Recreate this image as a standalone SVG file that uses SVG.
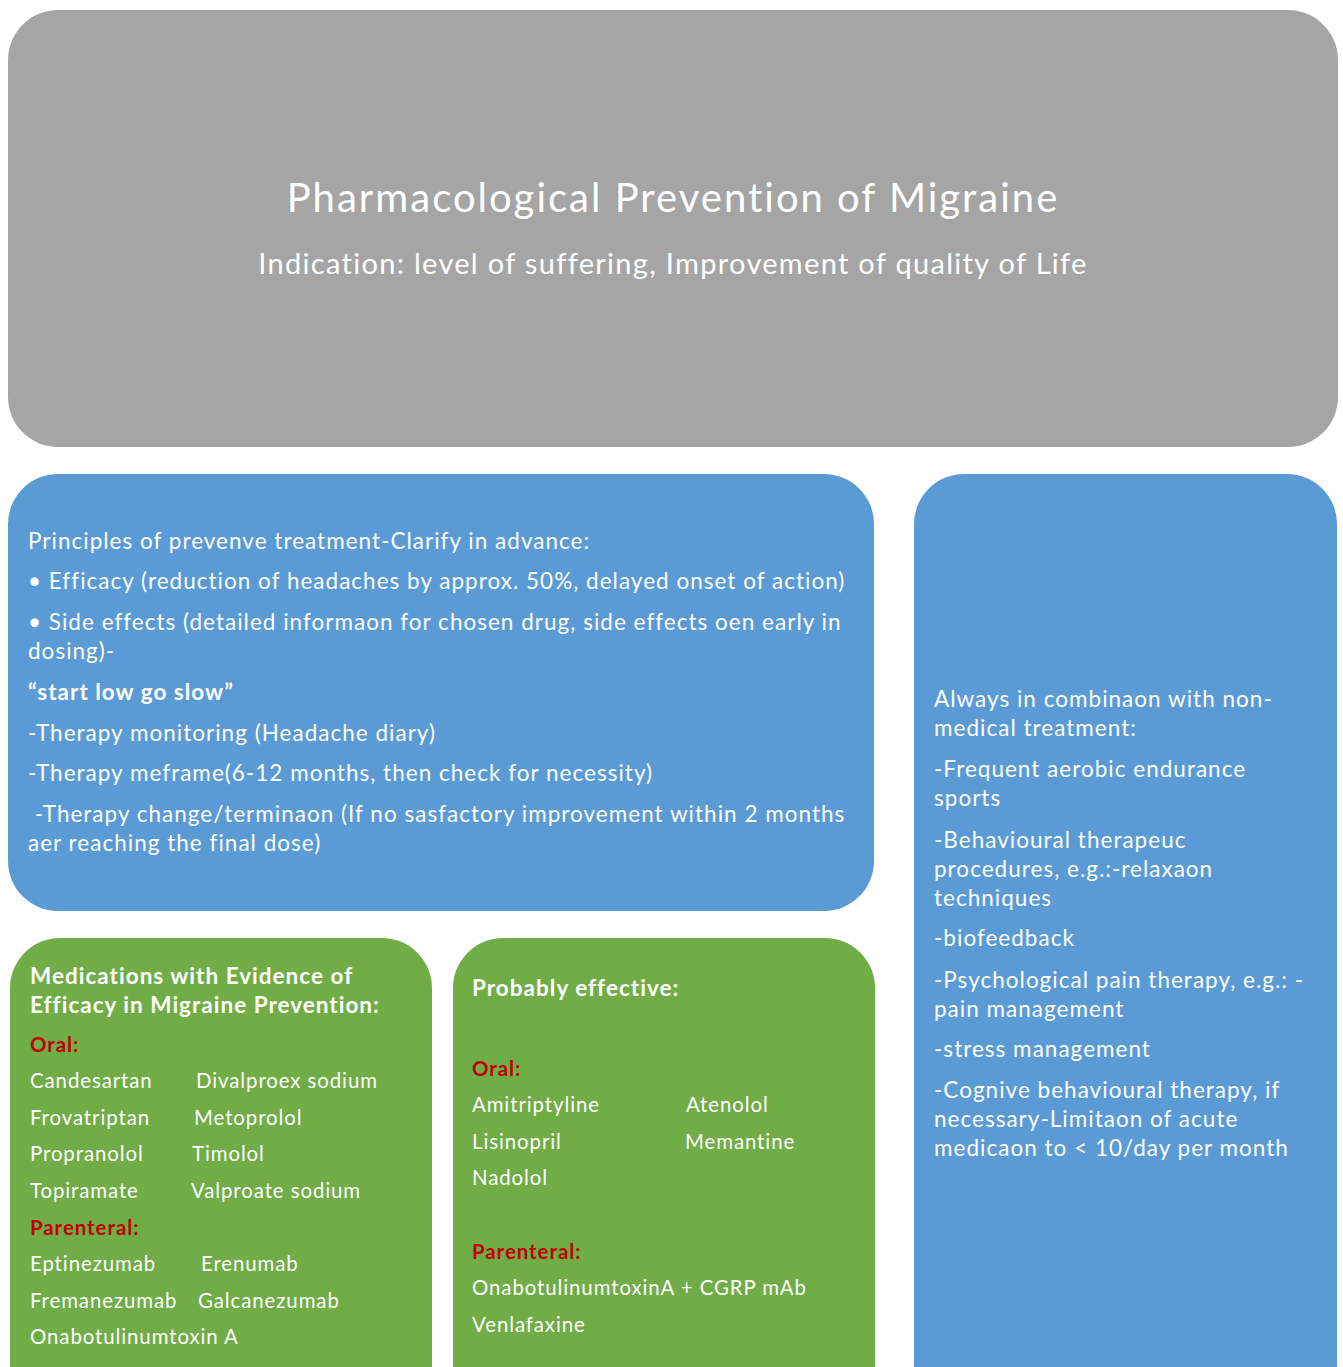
<svg xmlns="http://www.w3.org/2000/svg" width="1343" height="1367" viewBox="0 0 1343 1367">
<style>
.t{font-family:Lato,"Open Sans","Liberation Sans",sans-serif;fill:#ffffff;font-size:22.5px;letter-spacing:0.045em}
.s{font-size:20.4px}
.b{font-weight:bold}
.r{fill:#c00000;font-weight:bold;font-size:20.5px}
.gray{fill:#a5a5a5}
.blue{fill:#5b9bd5}
.green{fill:#70ad47}
</style>
<rect width="1343" height="1367" fill="#ffffff"/>
<g id="title">
<rect class="gray" x="8" y="10" width="1330" height="437" rx="50"/>
<text class="t" x="673" y="212" text-anchor="middle" style="font-size:40px;letter-spacing:0.05em">Pharmacological Prevention of Migraine</text>
<text class="t" x="673" y="274" text-anchor="middle" style="font-size:29px">Indication: level of suffering, Improvement of quality of Life</text>
</g>
<g id="principles">
<rect class="blue" x="8" y="474" width="866" height="437" rx="50"/>
<text class="t" x="28" y="549">Principles of prevenve treatment-Clarify in advance:</text>
<text class="t" x="28" y="589">• Efficacy (reduction of headaches by approx. 50%, delayed onset of action)</text>
<text class="t" x="28" y="630">• Side effects (detailed informaon for chosen drug, side effects oen early in</text>
<text class="t" x="28" y="659">dosing)-</text>
<text class="t b" x="28" y="700">“start low go slow”</text>
<text class="t" x="28" y="741">-Therapy monitoring (Headache diary)</text>
<text class="t" x="28" y="781">-Therapy meframe(6-12 months, then check for necessity)</text>
<text class="t" x="28" y="822" xml:space="preserve"> -Therapy change/terminaon (If no sasfactory improvement within 2 months</text>
<text class="t" x="28" y="851">aer reaching the final dose)</text>
</g>
<g id="nonmedical">
<rect class="blue" x="914" y="474" width="423" height="940" rx="50"/>
<text class="t" x="934" y="707">Always in combinaon with non-</text>
<text class="t" x="934" y="736">medical treatment:</text>
<text class="t" x="934" y="777">-Frequent aerobic endurance</text>
<text class="t" x="934" y="806">sports</text>
<text class="t" x="934" y="848">-Behavioural therapeuc</text>
<text class="t" x="934" y="877">procedures, e.g.:-relaxaon</text>
<text class="t" x="934" y="906">techniques</text>
<text class="t" x="934" y="946">-biofeedback</text>
<text class="t" x="934" y="988">-Psychological pain therapy, e.g.: -</text>
<text class="t" x="934" y="1017">pain management</text>
<text class="t" x="934" y="1057">-stress management</text>
<text class="t" x="934" y="1098">-Cognive behavioural therapy, if</text>
<text class="t" x="934" y="1127">necessary-Limitaon of acute</text>
<text class="t" x="934" y="1156">medicaon to &lt; 10/day per month</text>
</g>
<g id="evidence">
<rect class="green" x="10" y="938" width="422" height="480" rx="50"/>
<text class="t b" x="30" y="984">Medications with Evidence of</text>
<text class="t b" x="30" y="1013">Efficacy in Migraine Prevention:</text>
<text class="t r" x="30" y="1052">Oral:</text>
<text class="t s" x="30" y="1088">Candesartan</text><text class="t s" x="196" y="1088">Divalproex sodium</text>
<text class="t s" x="30" y="1125">Frovatriptan</text><text class="t s" x="194" y="1125">Metoprolol</text>
<text class="t s" x="30" y="1161">Propranolol</text><text class="t s" x="192" y="1161">Timolol</text>
<text class="t s" x="30" y="1198">Topiramate</text><text class="t s" x="191" y="1198">Valproate sodium</text>
<text class="t r" x="30" y="1235">Parenteral:</text>
<text class="t s" x="30" y="1271">Eptinezumab</text><text class="t s" x="201" y="1271">Erenumab</text>
<text class="t s" x="30" y="1308">Fremanezumab</text><text class="t s" x="198" y="1308">Galcanezumab</text>
<text class="t s" x="30" y="1344">Onabotulinumtoxin A</text>
</g>
<g id="probable">
<rect class="green" x="453" y="938" width="422" height="480" rx="50"/>
<text class="t b" x="472" y="996">Probably effective:</text>
<text class="t r" x="472" y="1076">Oral:</text>
<text class="t s" x="472" y="1112">Amitriptyline</text><text class="t s" x="686" y="1112">Atenolol</text>
<text class="t s" x="472" y="1149">Lisinopril</text><text class="t s" x="685" y="1149">Memantine</text>
<text class="t s" x="472" y="1185">Nadolol</text>
<text class="t r" x="472" y="1259">Parenteral:</text>
<text class="t s" x="472" y="1295">OnabotulinumtoxinA + CGRP mAb</text>
<text class="t s" x="472" y="1332">Venlafaxine</text>
</g>
<g id="connectors"></g>
</svg>
